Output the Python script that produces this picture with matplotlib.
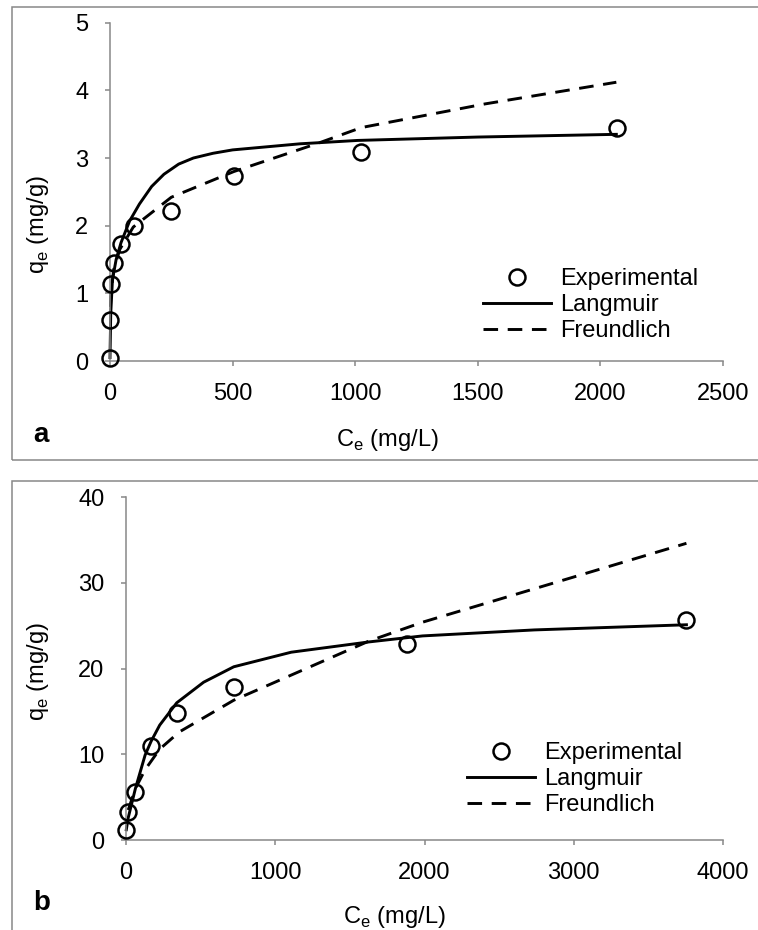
import matplotlib
matplotlib.use("Agg")
import matplotlib.pyplot as plt
from matplotlib.patches import Rectangle

plt.rcParams['font.family'] = ['Liberation Sans', 'DejaVu Sans']
plt.rcParams['mathtext.fontset'] = 'custom'
plt.rcParams['mathtext.rm'] = 'Liberation Sans'

# panel a data
ce_a = [0, 2, 3, 15, 46, 96, 249, 506, 1025, 2068]
qe_a = [0.05, 0.61, 1.14, 1.45, 1.73, 1.99, 2.21, 2.74, 3.09, 3.45]
lang_ce_a = [0, 3, 10, 25, 45, 80, 120, 170, 220, 280, 340, 420, 500, 775, 1010, 1500, 2065]
lang_qe_a = [0.05, 0.7, 1.2, 1.5, 1.75, 2.07, 2.32, 2.58, 2.76, 2.91, 3.0, 3.07, 3.12, 3.21, 3.26, 3.31, 3.35]
freu_ce_a = [2, 3, 15, 40, 95, 250, 505, 850, 1025, 1530, 2065]
freu_qe_a = [0.8, 0.95, 1.35, 1.65, 1.98, 2.42, 2.8, 3.22, 3.45, 3.8, 4.12]

# panel b data
ce_b = [2, 15, 63, 168, 340, 722, 1885, 3755]
qe_b = [1.2, 3.3, 5.6, 11.0, 14.8, 17.9, 22.8, 25.6]
lang_ce_b = [2, 15, 63, 128, 168, 226, 340, 520, 722, 1107, 1628, 1987, 2737, 3755]
lang_qe_b = [1.2, 2.6, 6.0, 9.9, 11.5, 13.4, 16.0, 18.4, 20.2, 21.9, 23.1, 23.8, 24.5, 25.1]
freu_ce_b = [15, 63, 128, 226, 357, 722, 1628, 1987, 3755]
freu_qe_b = [3.5, 6.0, 8.2, 10.6, 12.6, 16.3, 23.2, 25.4, 34.6]

labels = ["Experimental", "Langmuir", "Freundlich"]

W, H = 758, 930
fig = plt.figure(figsize=(W / 100, H / 100), dpi=100)


def box(x0, y0, x1, y1):
    return [x0 / W, 1 - y1 / H, (x1 - x0) / W, (y1 - y0) / H]


grey = '#888888'


def panel(rect, ce, qe, lce, lqe, fce, fqe, xmax, xstep, ymax, ystep, leg_xy):
    ax = fig.add_axes(rect)
    ax.plot(lce, lqe, color='black', lw=2.1, clip_on=False, label=labels[1])
    ax.plot(fce, fqe, color='black', lw=2.1, ls=(0, (5.0, 3.3)), clip_on=False, label=labels[2])
    ax.plot(ce, qe, ls='none', marker='o', ms=11.5, mfc='none', mec='black', mew=1.8,
            clip_on=False, label=labels[0], zorder=5)
    ax.set_xlim(0, xmax)
    ax.set_ylim(0, ymax)
    ax.set_xticks(range(0, xmax + 1, xstep))
    ax.set_yticks(range(0, ymax + 1, ystep))
    for s in ['top', 'right']:
        ax.spines[s].set_visible(False)
    for s in ['left', 'bottom']:
        ax.spines[s].set_color(grey)
        ax.spines[s].set_linewidth(1.1)
    ax.tick_params(axis='both', length=3.6, width=1.1, color=grey, labelsize=17)
    ax.tick_params(axis='x', pad=12)
    ax.tick_params(axis='y', pad=12)
    h, l = ax.get_legend_handles_labels()
    order = [2, 0, 1]
    ax.legend([h[i] for i in order], [l[i] for i in order], frameon=False, fontsize=17,
              loc='upper left', bbox_to_anchor=(leg_xy[0] / W, 1 - leg_xy[1] / H),
              bbox_transform=fig.transFigure, borderpad=0, borderaxespad=0,
              handlelength=2.9, handletextpad=0.35, labelspacing=0.17)
    return ax


panel(box(110, 22.7, 723, 361), ce_a, qe_a, lang_ce_a, lang_qe_a, freu_ce_a, freu_qe_a,
      2500, 500, 5, 1, (483, 268))
panel(box(126, 497, 723, 840), ce_b, qe_b, lang_ce_b, lang_qe_b, freu_ce_b, freu_qe_b,
      4000, 1000, 40, 10, (467, 742))

ylab = r'q$_\mathregular{e}$ (mg/g)'
xlab = r'C$_\mathregular{e}$ (mg/L)'
fig.text(38 / W, 1 - 225 / H, ylab, rotation=90, ha='center', va='center', fontsize=17)
fig.text(38 / W, 1 - 672 / H, ylab, rotation=90, ha='center', va='center', fontsize=17)
fig.text(387 / W, 1 - 446 / H, xlab, ha='center', va='baseline', fontsize=17)
fig.text(394 / W, 1 - 923 / H, xlab, ha='center', va='baseline', fontsize=17)
fig.text(41 / W, 1 - 435 / H, 'a', ha='center', va='center', fontsize=20, fontweight='heavy')
fig.text(42 / W, 1 - 903 / H, 'b', ha='center', va='center', fontsize=20, fontweight='heavy')

# panel frames
for y0, y1 in [(7, 460), (481, 1000)]:
    fig.add_artist(Rectangle((12 / W, 1 - y1 / H), 800 / W, (y1 - y0) / H, transform=fig.transFigure,
                             fill=False, ec=grey, lw=1.1, clip_on=False))

fig.savefig('out.png', dpi=100)
